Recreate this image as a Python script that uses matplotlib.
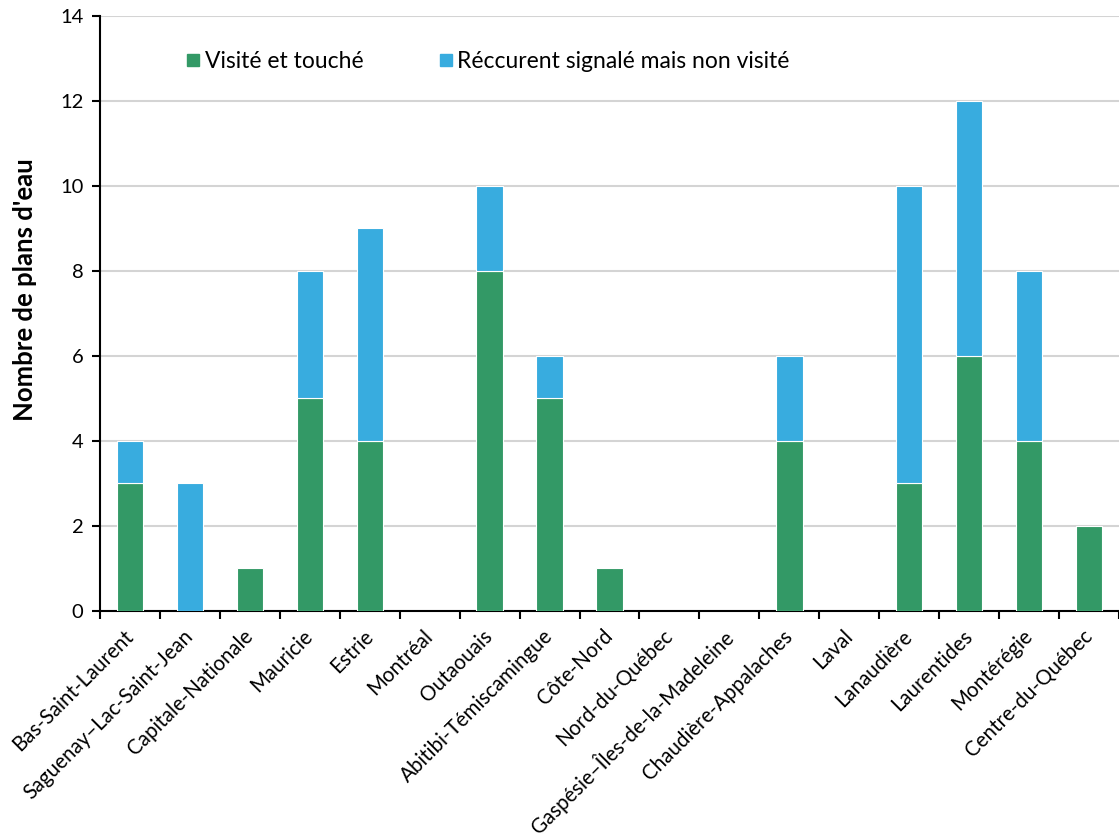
import matplotlib
matplotlib.use('Agg')
import matplotlib.pyplot as plt
from matplotlib.lines import Line2D
import numpy as np

# Régions administratives et nombre de plans d'eau
regions = ['Bas-Saint-Laurent', 'Saguenay–Lac-Saint-Jean', 'Capitale-Nationale',
           'Mauricie', 'Estrie', 'Montréal', 'Outaouais', 'Abitibi-Témiscamingue',
           'Côte-Nord', 'Nord-du-Québec', 'Gaspésie–Îles-de-la-Madeleine',
           'Chaudière-Appalaches', 'Laval', 'Lanaudière', 'Laurentides',
           'Montérégie', 'Centre-du-Québec']
visites = [3, 0, 1, 5, 4, 0, 8, 5, 1, 0, 0, 4, 0, 3, 6, 4, 2]
recurrents = [1, 3, 0, 3, 5, 0, 2, 1, 0, 0, 0, 2, 0, 7, 6, 4, 0]

vert = '#339966'
bleu = '#38acdf'

plt.rcParams['font.family'] = ['Lato', 'DejaVu Sans']

fig = plt.figure(figsize=(11.19, 8.39), dpi=100)
ax = fig.add_axes([0.0894, 0.2718, 0.9106, 0.7092])

x = np.arange(len(regions))
# pas de contour blanc sur les barres vides
lw_v = [0.8 if v > 0 else 0 for v in visites]
lw_r = [0.8 if v > 0 else 0 for v in recurrents]
ax.bar(x, visites, width=0.44, color=vert, edgecolor='white', linewidth=lw_v, zorder=3)
ax.bar(x, recurrents, width=0.44, bottom=visites, color=bleu,
       edgecolor='white', linewidth=lw_r, zorder=3)

ax.set_xlim(-0.5, len(regions) - 0.5)
ax.set_ylim(0, 14)
ax.set_yticks(range(0, 15, 2))
ax.yaxis.grid(True, color='#d4d4d4', linewidth=1.5, zorder=0)
ax.set_axisbelow(True)

ax.set_xticks(x)
ax.set_xticklabels(regions, rotation=45, ha='right', va='center',
                   rotation_mode='anchor', fontsize=14.8)
ax.set_xticks(np.arange(-0.5, len(regions)), minor=True)
ax.tick_params(axis='x', which='major', length=0, pad=16)
ax.tick_params(axis='x', which='minor', length=6, width=1.5, direction='out')
ax.tick_params(axis='y', length=6, width=1.5, direction='out', labelsize=14.5, pad=6)

for side in ['top', 'right']:
    ax.spines[side].set_visible(False)
for side in ['left', 'bottom']:
    ax.spines[side].set_linewidth(1.5)
    ax.spines[side].set_color('black')

ax.set_ylabel("Nombre de plans d'eau", fontsize=18.5, fontweight='bold')
ax.yaxis.set_label_coords(-0.062, 0.54)

handles = [
    Line2D([], [], marker='s', linestyle='none', markersize=9, color=vert),
    Line2D([], [], marker='s', linestyle='none', markersize=9, color=bleu),
]
ax.legend(handles, ['Visité et touché', 'Réccurent signalé mais non visité'],
          ncol=2, frameon=False, fontsize=16.5, loc='upper left',
          bbox_to_anchor=(0.06, 0.975), columnspacing=3.1, handletextpad=0.0,
          handlelength=1.0)

fig.savefig('out.png', dpi=100)
